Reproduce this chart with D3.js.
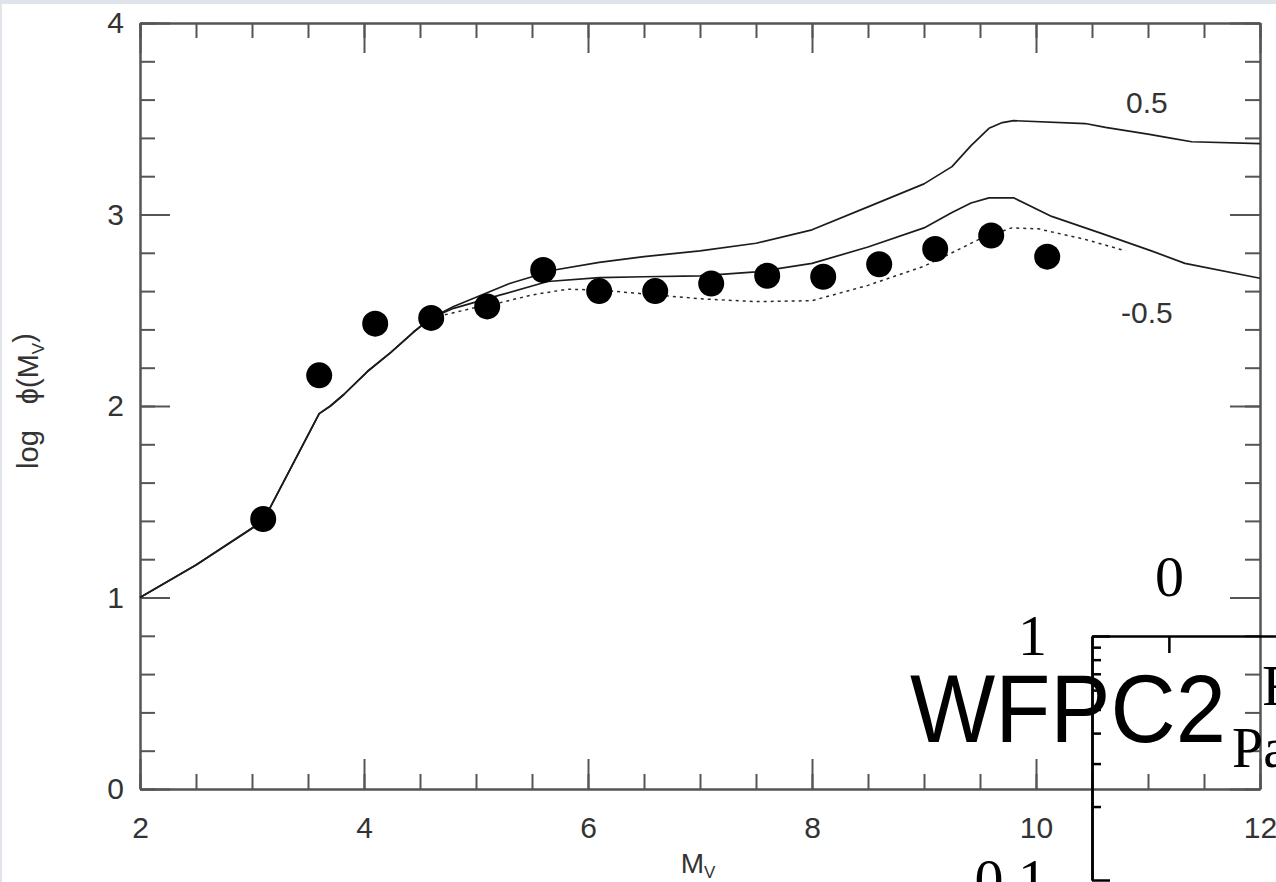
<!DOCTYPE html>
<html>
<head>
<meta charset="utf-8">
<script src="https://cdn.jsdelivr.net/npm/d3@7"></script>
<style>
  body { margin: 0; background: #dfe4eb; }
  #chart { position: absolute; left: 2px; top: 4px; width: 1274px; height: 878px; background: #fff; overflow: hidden; }
</style>
</head>
<body>
<div id="chart"></div>
<script>
// axis ticks
const mvMajor = [2, 4, 6, 8, 10, 12];
const mvMinor = d3.range(2, 12.01, 0.5);
const logPhiMajor = [0, 1, 2, 3, 4];
const logPhiMinor = d3.range(0, 4.01, 0.2);

// observed points
const obsMv = [3.1, 3.6, 4.1, 4.6, 5.1, 5.6, 6.1, 6.6, 7.1, 7.6, 8.1, 8.6, 9.1, 9.6, 10.1];
const obsLogPhi = [1.41, 2.16, 2.43, 2.46, 2.52, 2.71, 2.60, 2.60, 2.64, 2.68, 2.675, 2.74, 2.82, 2.89, 2.78];

// part that all three model curves share
const sharedMv = [2.0, 2.5, 3.1, 3.6, 3.7, 3.82, 4.03, 4.24, 4.44, 4.6];
const sharedLogPhi = [1.0, 1.17, 1.40, 1.96, 2.00, 2.06, 2.18, 2.28, 2.385, 2.46];

// model [Fe/H] = 0.5
const upperMv = [4.8, 5.05, 5.3, 5.7, 6.1, 6.5, 7.0, 7.5, 8.0, 8.5, 9.0, 9.25, 9.42, 9.58, 9.7, 9.8, 10.44, 10.62, 11.0, 11.19, 11.39, 12.0];
const upperLogPhi = [2.52, 2.58, 2.64, 2.71, 2.75, 2.78, 2.81, 2.85, 2.92, 3.04, 3.16, 3.25, 3.36, 3.45, 3.48, 3.49, 3.475, 3.455, 3.42, 3.40, 3.38, 3.37];

// model [Fe/H] = -0.5
const lowerMv = [4.8, 5.22, 5.64, 6.1, 6.5, 7.0, 7.5, 8.0, 8.5, 9.0, 9.25, 9.42, 9.58, 9.8, 10.14, 10.59, 11.03, 11.33, 12.0];
const lowerLogPhi = [2.51, 2.58, 2.65, 2.67, 2.675, 2.68, 2.70, 2.745, 2.83, 2.93, 3.01, 3.06, 3.087, 3.087, 2.99, 2.90, 2.81, 2.745, 2.667];

// dotted model
const dottedMv = [4.75, 5.0, 5.22, 5.5, 5.82, 6.1, 6.41, 7.0, 7.5, 8.0, 8.5, 9.0, 9.25, 9.49, 9.78, 10.02, 10.44, 10.8];
const dottedLogPhi = [2.48, 2.515, 2.54, 2.58, 2.61, 2.605, 2.59, 2.56, 2.545, 2.55, 2.63, 2.73, 2.80, 2.87, 2.93, 2.925, 2.87, 2.81];

const curveLabels = ["0.5", "-0.5"];
const curveLabelMv = [10.99, 10.99];
const curveLabelLogPhi = [3.585, 2.49];

// leftover panel that overlaps the corner
const insetMajor = [1, 0.1];
const insetMinor = [0.2, 0.3, 0.4, 0.5, 0.6, 0.7, 0.8, 0.9];
const insetTopTicks = [0];

function lf_plot(element_id) {
    const margin = { top: 19, right: 16, bottom: 93, left: 138 };
    const plot_width = document.getElementById(element_id).clientWidth
    const plot_height = document.getElementById(element_id).clientHeight
    const width = plot_width - margin.left - margin.right
    const height = plot_height - margin.top - margin.bottom

    const root = d3.select(`#${element_id}`)
        .append("svg")
        .attr("width", plot_width)
        .attr("height", plot_height)
        .style("display", "block");
    const svg = root.append("g")
        .attr("transform", `translate(${margin.left},${margin.top})`);

    const x = d3.scaleLinear().domain([2, 12]).range([0, width]);
    const y = d3.scaleLinear().domain([0, 4]).range([height, 0]);

    const axisColor = "#555";
    const sans = "'Liberation Sans', Arial, Helvetica, sans-serif";

    function styleAxis(g) {
        g.selectAll("path, line").attr("stroke", axisColor).attr("stroke-width", 2);
        g.selectAll("text").attr("fill", "#333").attr("font-size", 30).attr("font-family", sans);
    }

    // bottom
    svg.append("g").attr("transform", `translate(0,${height})`)
        .call(d3.axisBottom(x).tickValues(mvMinor).tickSizeInner(-15).tickSizeOuter(0).tickFormat(""))
        .call(styleAxis);
    svg.append("g").attr("transform", `translate(0,${height})`)
        .call(d3.axisBottom(x).tickValues(mvMajor).tickSizeInner(-30).tickSizeOuter(0).tickPadding(28).tickFormat(d3.format("d")))
        .call(styleAxis);
    // top
    svg.append("g")
        .call(d3.axisTop(x).tickValues(mvMinor).tickSizeInner(-15).tickSizeOuter(0).tickFormat(""))
        .call(styleAxis);
    svg.append("g")
        .call(d3.axisTop(x).tickValues(mvMajor).tickSizeInner(-30).tickSizeOuter(0).tickFormat(""))
        .call(styleAxis);
    // left
    svg.append("g")
        .call(d3.axisLeft(y).tickValues(logPhiMinor).tickSizeInner(-15).tickSizeOuter(0).tickFormat(""))
        .call(styleAxis);
    svg.append("g")
        .call(d3.axisLeft(y).tickValues(logPhiMajor).tickSizeInner(-30).tickSizeOuter(0).tickPadding(16).tickFormat(d3.format("d")))
        .call(styleAxis);
    // right
    svg.append("g").attr("transform", `translate(${width},0)`)
        .call(d3.axisRight(y).tickValues(logPhiMinor).tickSizeInner(-15).tickSizeOuter(0).tickFormat(""))
        .call(styleAxis);
    svg.append("g").attr("transform", `translate(${width},0)`)
        .call(d3.axisRight(y).tickValues(logPhiMajor).tickSizeInner(-30).tickSizeOuter(0).tickFormat(""))
        .call(styleAxis);

    const line = d3.line()
        .x(d => x(d[0]))
        .y(d => y(d[1]));

    const shared = sharedMv.map((m, i) => [m, sharedLogPhi[i]]);
    const upper = shared.concat(upperMv.map((m, i) => [m, upperLogPhi[i]]));
    const lower = shared.concat(lowerMv.map((m, i) => [m, lowerLogPhi[i]]));
    const dotted = [shared[shared.length - 1]].concat(dottedMv.map((m, i) => [m, dottedLogPhi[i]]));

    [upper, lower].forEach(d => {
        svg.append("path")
            .datum(d)
            .attr("fill", "none")
            .attr("stroke", "#1c1c1c")
            .attr("stroke-width", 1.7)
            .attr("stroke-linejoin", "round")
            .attr("d", line);
    });
    svg.append("path")
        .datum(dotted)
        .attr("fill", "none")
        .attr("stroke", "#2a2a2a")
        .attr("stroke-width", 1.5)
        .attr("stroke-dasharray", "3,4")
        .attr("d", line);

    svg.selectAll(".obs")
        .data(obsMv.map((m, i) => [m, obsLogPhi[i]]))
        .enter().append("circle")
        .attr("class", "obs")
        .attr("cx", d => x(d[0]))
        .attr("cy", d => y(d[1]))
        .attr("r", 13)
        .attr("fill", "#000");

    svg.selectAll(".curve-label")
        .data(curveLabels)
        .enter().append("text")
        .attr("class", "curve-label")
        .attr("x", (d, i) => x(curveLabelMv[i]))
        .attr("y", (d, i) => y(curveLabelLogPhi[i]))
        .attr("dy", "0.36em")
        .attr("text-anchor", "middle")
        .attr("font-size", 30)
        .attr("font-family", sans)
        .attr("fill", "#333")
        .text(d => d);

    // axis titles
    const xt = svg.append("text")
        .attr("x", width / 2 - 2)
        .attr("y", height + 84)
        .attr("text-anchor", "middle")
        .attr("font-size", 28)
        .attr("font-family", sans)
        .attr("fill", "#333");
    xt.append("tspan").text("M");
    xt.append("tspan").attr("font-size", 17).attr("dy", "0.3em").text("V");

    const yt = svg.append("text")
        .attr("transform", "rotate(-90)")
        .attr("x", -height / 2 + 5)
        .attr("y", -margin.left + 36)
        .attr("text-anchor", "middle")
        .attr("font-size", 29)
        .attr("font-family", sans)
        .attr("fill", "#333");
    yt.append("tspan").text("log");
    yt.append("tspan").attr("dx", 26).text("\u03D5(M");
    yt.append("tspan").attr("font-size", 17).attr("dy", "0.35em").text("V");
    yt.append("tspan").attr("dy", "-0.35em").text(")");

    // overlapping panel, drawn in page coordinates
    const inset = root.append("g");
    const serif = "'Liberation Serif', 'Times New Roman', serif";
    const ix0 = 1090, iy0 = 632;
    const iy = d3.scaleLog().domain([0.1, 1]).range([iy0 + 244, iy0]);
    const ix = d3.scaleLinear().domain([-0.5, 1.1]).range([ix0, ix0 + 246]);

    function styleInset(g) {
        g.selectAll("path, line").attr("stroke", "#000").attr("stroke-width", 2.5);
        g.selectAll("text").attr("fill", "#000").attr("font-size", 58).attr("font-family", serif);
    }
    inset.append("g").attr("transform", `translate(${ix0},0)`)
        .call(d3.axisLeft(iy).tickValues(insetMinor).tickSizeInner(-9).tickSizeOuter(0).tickFormat(""))
        .call(styleInset);
    inset.append("g").attr("transform", `translate(${ix0},0)`)
        .call(d3.axisLeft(iy).tickValues(insetMajor).tickSizeInner(-18).tickSizeOuter(0).tickPadding(45).tickFormat(d3.format("")))
        .call(styleInset);
    inset.append("g").attr("transform", `translate(0,${iy0})`)
        .call(d3.axisTop(ix).tickValues(insetTopTicks).tickSizeInner(-17).tickSizeOuter(0).tickPadding(40).tickFormat(d3.format("d")))
        .call(styleInset);

    inset.append("text")
        .attr("x", 908)
        .attr("y", 738)
        .attr("font-size", 96)
        .attr("font-family", sans)
        .attr("textLength", 316)
        .attr("lengthAdjust", "spacingAndGlyphs")
        .attr("fill", "#000")
        .text("WFPC2");
    inset.append("text")
        .attr("x", 1230)
        .attr("y", 763)
        .attr("font-size", 56)
        .attr("font-family", serif)
        .attr("fill", "#000")
        .text("Pa");
    inset.append("text")
        .attr("x", 1260)
        .attr("y", 701)
        .attr("font-size", 58)
        .attr("font-family", serif)
        .attr("fill", "#000")
        .text("F");
}

lf_plot("chart");
</script>
</body>
</html>
